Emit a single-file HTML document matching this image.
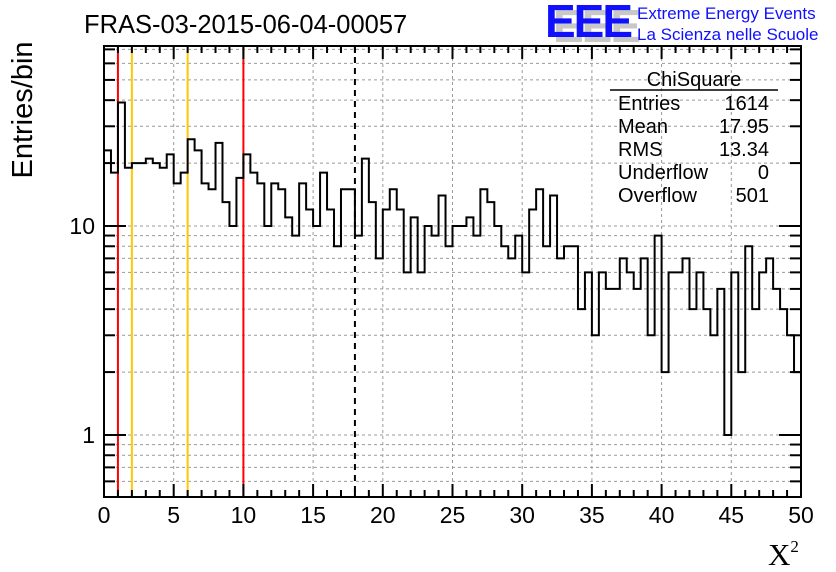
<!DOCTYPE html>
<html><head><meta charset="utf-8"><style>
body{margin:0;background:#fff;}
svg{display:block;font-family:"Liberation Sans",sans-serif;}
</style></head><body>
<svg id="c" width="836" height="572" viewBox="0 0 836 572">
<g id="grid"></g>
<g id="lines"></g>
<path id="hist" fill="none" stroke="#000" stroke-width="2"/>
<rect x="104" y="46" width="697" height="451" fill="none" stroke="#000" stroke-width="2"/>
<g id="ticks"></g>
<g id="labels" font-size="23"></g>
<text x="84" y="33" font-size="25.5">FRAS-03-2015-06-04-00057</text>
<g>
<text x="553" y="42" font-size="46" font-weight="bold" fill="#c8c8c8" letter-spacing="-2">EEE</text>
<text x="545" y="37" font-size="46" font-weight="bold" fill="#1010ff" letter-spacing="-2">EEE</text>
<text x="637" y="19" font-size="17" fill="#1010ff">Extreme Energy Events</text>
<text x="637" y="40" font-size="17" fill="#1010ff">La Scienza nelle Scuole</text>
</g>
<g font-size="20">
<text x="694" y="86" text-anchor="middle">ChiSquare</text>
<line x1="610" y1="90" x2="778" y2="90" stroke="#000" stroke-width="1.5"/>
<text x="618" y="110">Entries</text><text x="769" y="110" text-anchor="end">1614</text>
<text x="618" y="133">Mean</text><text x="769" y="133" text-anchor="end">17.95</text>
<text x="618" y="156">RMS</text><text x="769" y="156" text-anchor="end">13.34</text>
<text x="618" y="179">Underflow</text><text x="769" y="179" text-anchor="end">0</text>
<text x="618" y="202">Overflow</text><text x="769" y="202" text-anchor="end">501</text>
</g>
<text transform="translate(32,110) rotate(-90)" font-size="29" text-anchor="middle">Entries/bin</text>
<text x="768" y="565" font-size="31" font-family="Liberation Serif,serif">X<tspan font-size="17" dy="-13">2</tspan></text>
</svg>
<script>
const counts=[23,18,39,19,20,20,21,20,19,22,16,18,26,23,16,15,25,13,10,17,22,18,16,10,16,15,11,9,16,12,10,18,12,8,15,15,9,21,13,7,12,15,12,6,11,6,10,9,14,8,10,10,11,9,15,13,10,8,7,9,6,12,15,8,14,7,8,8,4,6,3,6,5,5,7,6,5,7,3,9,2,6,6,7,4,6,4,3,5,1,6,2,8,4,6,7,5,4,3,2];
const xTicks=[0,5,10,15,20,25,30,35,40,45,50];
const yMajor=[1,10];
const yMinor=[0.6,0.7,0.8,0.9,2,3,4,5,6,7,8,9,20,30,40,50,60,70];
const redLines=[1,10];
const orangeLines=[2,6];
const dashedLines=[18];
const binWidth=0.5;
const NS="http://www.w3.org/2000/svg";
const X0=104,X1=801,Y10=226,DEC=209,YB=497,YT=46;
const sx=v=>X0+(v/50)*(X1-X0);
const sy=v=>435-DEC*Math.log10(v);
function mk(tag,attrs,parent){const e=document.createElementNS(NS,tag);for(const k in attrs)e.setAttribute(k,attrs[k]);parent.appendChild(e);return e;}
const grid=document.getElementById('grid'),ticks=document.getElementById('ticks'),labels=document.getElementById('labels'),lines=document.getElementById('lines');
xTicks.forEach(t=>{
 if(t>0&&t<50){const g=mk('line',{x1:sx(t),x2:sx(t),y1:YT,y2:YB,stroke:'#999','stroke-dasharray':'3,3','stroke-width':1},grid);
 
 }
 const l=mk('text',{x:sx(t),y:523,'text-anchor':'middle'},labels);l.textContent=t;
 
 
});
for(let v=0;v<=50;v+=1){const len=v%5===0?13:7;
 mk('line',{x1:sx(v),x2:sx(v),y1:YB,y2:YB-len,stroke:'#000','stroke-width':2},ticks);
 mk('line',{x1:sx(v),x2:sx(v),y1:YT,y2:YT+len,stroke:'#000','stroke-width':2},ticks);}
yMinor.concat(yMajor).forEach(v=>{const y=sy(v);if(y<YT||y>YB)return;
 const g=mk('line',{x1:X0,x2:X1,y1:y,y2:y,stroke:'#999','stroke-dasharray':'3,3','stroke-width':1},grid);
 
 
 const len=yMajor.includes(v)?22:11;
 mk('line',{x1:X0,x2:X0+len,y1:y,y2:y,stroke:'#000','stroke-width':2},ticks);
 mk('line',{x1:X1,x2:X1-len,y1:y,y2:y,stroke:'#000','stroke-width':2},ticks);});
yMajor.forEach(v=>{const l=mk('text',{x:95,y:sy(v)+8,'text-anchor':'end'},labels);l.textContent=v;
 
 });
function vline(v,color,dash,name){const l=mk('line',{x1:sx(v),x2:sx(v),y1:YT,y2:YB,stroke:color,'stroke-width':2},lines);
 if(dash)l.setAttribute('stroke-dasharray',dash);
 
 }
redLines.forEach(v=>vline(v,'#ff0000',null,'red-threshold-line'));
orangeLines.forEach(v=>vline(v,'#ffc800',null,'orange-threshold-line'));
dashedLines.forEach(v=>vline(v,'#000','6,5','mean-dashed-line'));
let d='';
counts.forEach((c,i)=>{const y=Math.min(YB,sy(c));const xa=sx(i*binWidth),xb=sx((i+1)*binWidth);
 d+=(i===0?'M'+xa+','+y:'L'+xa+','+y)+'L'+xb+','+y;});
document.getElementById('hist').setAttribute('d',d);
</script>
</body></html>
